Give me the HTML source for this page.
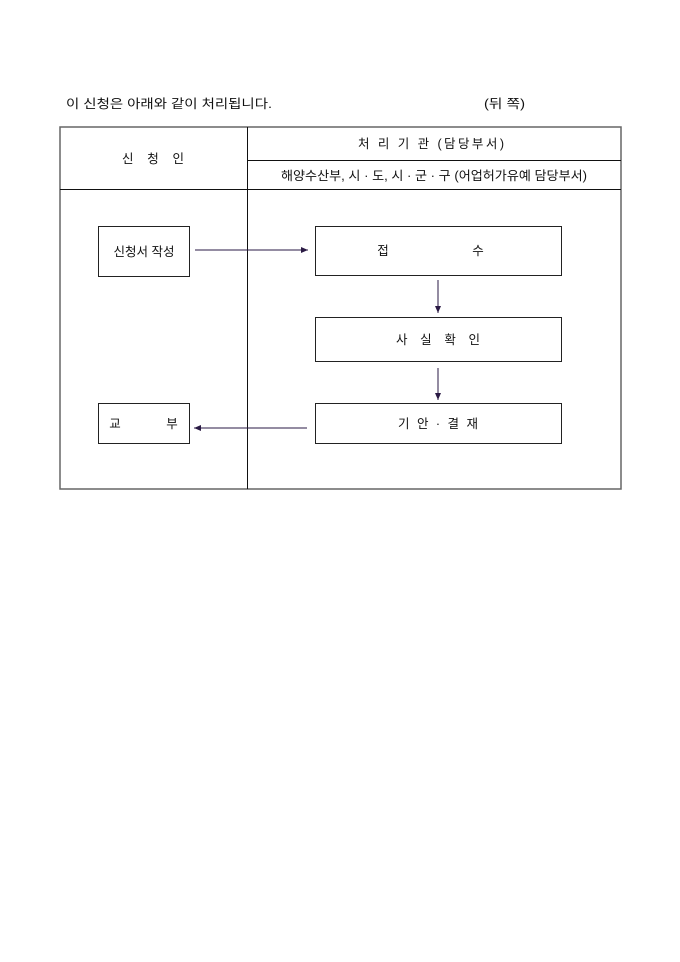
<!DOCTYPE html>
<html><head><meta charset="utf-8"><style>
html,body{margin:0;padding:0;background:#fff;}
svg{display:block;}
text{font-family:"Liberation Sans","Noto Sans CJK KR","NanumGothic",sans-serif;font-size:12.5px;fill:#111;}
</style></head><body>
<svg width="680" height="962" viewBox="0 0 680 962" xmlns="http://www.w3.org/2000/svg">
<defs>
<marker id="a" markerWidth="8" markerHeight="8" refX="7" refY="4" orient="auto" markerUnits="userSpaceOnUse">
<path d="M0,1 L7,4 L0,7 z" fill="#2a1a44"/></marker>
</defs>
<text x="66" y="108" textLength="206" lengthAdjust="spacingAndGlyphs">이 신청은 아래와 같이 처리됩니다.</text>
<text x="484" y="108" textLength="41" lengthAdjust="spacingAndGlyphs">(뒤 쪽)</text>
<g fill="none" stroke="#666" stroke-width="1.5">
<rect x="60" y="127" width="561" height="362"/>
</g>
<g stroke="#111" stroke-width="1">
<line x1="247.5" y1="127" x2="247.5" y2="489"/>
<line x1="247" y1="160.5" x2="621" y2="160.5"/>
<line x1="60" y1="189.5" x2="621" y2="189.5"/>
</g>
<text x="153" y="163" text-anchor="middle" textLength="62" lengthAdjust="spacing">신 청 인</text>
<text x="431" y="148" text-anchor="middle" textLength="146" lengthAdjust="spacing">처 리 기 관 (담당부서)</text>
<text x="434" y="180" text-anchor="middle" textLength="306" lengthAdjust="spacingAndGlyphs">해양수산부, 시 · 도, 시 · 군 · 구 (어업허가유예 담당부서)</text>
<g fill="#fff" stroke="#222" stroke-width="1">
<rect x="98.5" y="226.5" width="91" height="50"/>
<rect x="315.5" y="226.5" width="246" height="49"/>
<rect x="315.5" y="317.5" width="246" height="44"/>
<rect x="315.5" y="403.5" width="246" height="40"/>
<rect x="98.5" y="403.5" width="91" height="40"/>
</g>
<text x="144" y="256" text-anchor="middle">신청서 작성</text>
<text x="383" y="255" text-anchor="middle">접</text>
<text x="478" y="255" text-anchor="middle">수</text>
<text x="438" y="344" text-anchor="middle" textLength="84" lengthAdjust="spacing">사 실 확 인</text>
<text x="438" y="428" text-anchor="middle" textLength="80" lengthAdjust="spacing">기 안 · 결 재</text>
<text x="115" y="428" text-anchor="middle">교</text>
<text x="172" y="428" text-anchor="middle">부</text>
<g stroke="#2a1a44" stroke-width="1" fill="none">
<line x1="195" y1="250" x2="308" y2="250" marker-end="url(#a)"/>
<line x1="438" y1="280" x2="438" y2="313" marker-end="url(#a)"/>
<line x1="438" y1="368" x2="438" y2="400" marker-end="url(#a)"/>
<line x1="307" y1="428" x2="194" y2="428" marker-end="url(#a)"/>
</g>
</svg>
</body></html>
